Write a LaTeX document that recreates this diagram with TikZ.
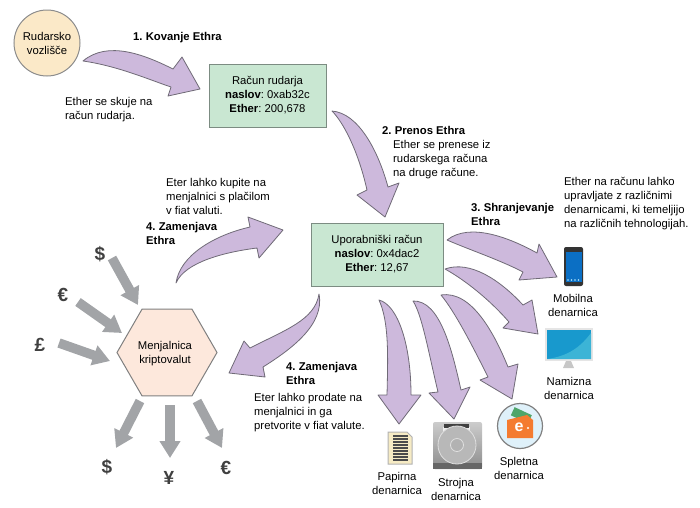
\documentclass[tikz,border=0pt]{standalone}
\usepackage{fontspec}
\setmainfont{Liberation Sans}
\usepackage{tikz}
\usetikzlibrary{arrows.meta,shapes.geometric}
\definecolor{fatfill}{HTML}{CDB9DC}
\definecolor{fatline}{HTML}{6F6A76}
\definecolor{boxfill}{HTML}{C9E7D2}
\definecolor{boxline}{HTML}{7C8C82}
\definecolor{flowgray}{HTML}{A2A4A7}
\definecolor{minerfill}{HTML}{FBE9C8}
\definecolor{hexfill}{HTML}{FDE8DC}
\definecolor{screendark}{HTML}{1899CD}
\definecolor{screenlight}{HTML}{3CB4D6}
\definecolor{phoneblue}{HTML}{0B6FC4}
\definecolor{papercream}{HTML}{F6EBC4}
\definecolor{notegreen}{HTML}{4FA56A}
\definecolor{walletorange}{HTML}{F47B30}
\definecolor{walletback}{HTML}{DFF1FA}
\newcommand{\bodyfont}{\fontsize{11.3}{14}\selectfont\frenchspacing}
\tikzset{
    fatarrow/.style={draw=fatline, fill=fatfill, line width=0.8pt, line join=round},
    flowarrow/.style={draw=flowgray, line width=9.5pt, -{Triangle[length=17pt,width=20pt]}},
    account/.style={draw=boxline, fill=boxfill, line width=1pt, minimum width=117pt, minimum height=63pt, align=center, inner sep=0pt, font=\bodyfont},
    txt/.style={anchor=west, align=left, inner sep=0pt, font=\bodyfont},
    head/.style={txt, font=\bodyfont\bfseries},
    lbl/.style={align=center, inner sep=0pt, font=\bodyfont},
    sym/.style={inner sep=0pt, text=black!75, font=\fontsize{19}{19}\selectfont\bfseries}
}
\begin{document}
\begin{tikzpicture}[x=1pt, y=-1pt, >=stealth]
        \useasboundingbox (0,0) rectangle (700,507);
        % main nodes
        \node[circle, draw=black!45, fill=minerfill, line width=1pt, minimum size=66pt, inner sep=0pt, align=center, font=\bodyfont] (miner) at (47,43) {Rudarsko\\vozlišče};
        \node[account] (mineracc) at (267.5,95.5) {Račun rudarja\\\textbf{naslov}: 0xab32c\\\textbf{Ether}: 200,678};
        \node[account, minimum width=132pt] (useracc) at (377,254.5) {Uporabniški račun\\\textbf{naslov}: 0x4dac2\\\textbf{Ether}: 12,67};
        \node[regular polygon, regular polygon sides=6, draw=black!50, fill=hexfill, line width=1pt, minimum size=100pt, inner sep=0pt] (exchange) at (167,352.5) {};
        \node[lbl] (exchangetxt) at (165,354) {Menjalnica\\kriptovalut};

        % end points of the wide arrows
        \coordinate (t1) at (83,61);    \coordinate (h1) at (200,89);
        \coordinate (t2) at (332,111);  \coordinate (h2) at (385,217);
        \coordinate (t3) at (447,240);  \coordinate (h3) at (557,277);
        \coordinate (t4) at (445,269);  \coordinate (h4) at (538,334);
        \coordinate (t5) at (441,295);  \coordinate (h5) at (512,399);
        \coordinate (t6) at (413,301);  \coordinate (h6) at (454,419);
        \coordinate (t7) at (379,300);  \coordinate (h7) at (399,424);
        \coordinate (t8) at (319,294);  \coordinate (h8) at (229,373);
        \coordinate (t9) at (176,283);  \coordinate (h9) at (283,230);

        \draw[fatarrow] (t1) .. controls (108,40) and (145,55) .. (173,69) -- (182,57) -- (h1) -- (168,96) -- (171,87)
            .. controls (150,80) and (118,66) .. (t1) -- cycle;
        \draw[fatarrow] (t2) .. controls (358,113) and (378,150) .. (388,187) -- (399,183) -- (h2) -- (357,195) -- (367,190)
            .. controls (358,150) and (343,122) .. (t2) -- cycle;
        \draw[fatarrow] (t3) .. controls (470,222) and (510,238) .. (537,253) -- (539,244) -- (h3) -- (519,280) -- (523,272)
            .. controls (500,260) and (470,250) .. (t3) -- cycle;
        \draw[fatarrow] (t4) .. controls (470,260) and (500,280) .. (523,305) -- (532,300) -- (h4) -- (503,328) -- (509,322)
            .. controls (490,300) and (465,280) .. (t4) -- cycle;
        \draw[fatarrow] (t5) .. controls (472,290) and (495,335) .. (508,367) -- (518,364) -- (h5) -- (480,380) -- (488,377)
            .. controls (472,345) and (455,312) .. (t5) -- cycle;
        \draw[fatarrow] (t6) .. controls (440,300) and (452,350) .. (461,390) -- (470,387) -- (h6) -- (429,393) -- (438,392)
            .. controls (428,350) and (422,315) .. (t6) -- cycle;
        \draw[fatarrow] (t7) .. controls (398,305) and (411,345) .. (411,395) -- (421,395) -- (h7) -- (378,395) -- (387,395)
            .. controls (388,355) and (389,322) .. (t7) -- cycle;
        \draw[fatarrow] (t8) .. controls (325,325) and (290,350) .. (263,367) -- (265,377) -- (h8) -- (244,341) -- (250,348)
            .. controls (285,330) and (315,320) .. (t8) -- cycle;
        \draw[fatarrow] (t9) .. controls (180,255) and (215,235) .. (250,227) -- (248,217) -- (h9) -- (259,258) -- (257,248)
            .. controls (225,252) and (185,262) .. (t9) -- cycle;

        % currency
        \foreach \n/\x/\y/\s in {din/100/254/\$, ein/63/295/€, pin/40/345/£, dout/107/467/\$, yout/169/478/¥, eout/226/468/€}
            \node[sym] (\n) at (\x,\y) {\s};
        \coordinate (a1) at (112,258); \coordinate (b1) at (138,305);
        \coordinate (a2) at (78,302);  \coordinate (b2) at (122,333);
        \coordinate (a3) at (59,343);  \coordinate (b3) at (110,361);
        \coordinate (a4) at (140,401); \coordinate (b4) at (116,448);
        \coordinate (a5) at (170,405); \coordinate (b5) at (170,458);
        \coordinate (a6) at (197,401); \coordinate (b6) at (222,448);
        \foreach \i in {1,...,6}
            \draw[flowarrow] (a\i) -- (b\i);

        % texts
        \node[head] (step1) at (133,38) {1. Kovanje Ethra};
        \node[txt] (step1txt) at (65,110) {Ether se skuje na\\račun rudarja.};
        \node[head] (step2) at (382,130) {2. Prenos Ethra};
        \node[txt] (step2txt) at (393,160) {Ether se prenese iz\\rudarskega računa\\na druge račune.};
        \node[head] (step3) at (471,214.5) {3. Shranjevanje\\Ethra};
        \node[txt] (step3txt) at (564,204) {Ether na računu lahko\\upravljate z različnimi\\denarnicami, ki temeljijo\\na različnih tehnologijah.};
        \node[txt] (buytxt) at (166,196) {Eter lahko kupite na\\menjalnici s plačilom\\v fiat valuti.};
        \node[head] (buy) at (146,233) {4. Zamenjava\\Ethra};
        \node[head] (sell) at (286,373.5) {4. Zamenjava\\Ethra};
        \node[txt] (selltxt) at (254,412.5) {Eter lahko prodate na\\menjalnici in ga\\pretvorite v fiat valute.};

        % wallets
        \node[lbl] (mobile) at (573,305) {Mobilna\\denarnica};
        \node[lbl] (desktop) at (569,388) {Namizna\\denarnica};
        \node[lbl] (web) at (519,468) {Spletna\\denarnica};
        \node[lbl] (paper) at (397,483) {Papirna\\denarnica};
        \node[lbl] (hard) at (456,489) {Strojna\\denarnica};

        % phone
        \fill[black!80, rounded corners=2pt] (564,247) rectangle (583,286);
        \fill[phoneblue] (565.5,252) rectangle (581.5,282);
        \foreach \x in {568,571.5,575,578.5}
            \fill[cyan!30] (\x,280) circle (0.9pt);
        % monitor
        \fill[black!10] (545,328) rectangle (593,361);
        \fill[screendark] (547,330) rectangle (591,359);
        \fill[screenlight] (547,359) .. controls (570,356) and (582,345) .. (591,333) -- (591,359) -- cycle;
        \fill[black!22] (566,361) -- (571,361) -- (574,368) -- (563,368) -- cycle;
        % paper
        \draw[fill=papercream, draw=black!30, line width=1pt] (388,432) -- (407,432) -- (412,437) -- (412,464) -- (388,464) -- cycle;
        \foreach \y in {436,439,...,460}
            \draw[black!70, line width=1.5pt] (393,\y) -- (408,\y);
        % disk
        \shade[top color=black!20, bottom color=black!45, rounded corners=2pt] (433,422) rectangle (482,469);
        \fill[black!60] (433,463) rectangle (482,469);
        \fill[black!6] (443,427) rectangle (470,431);
        \fill[black!75] (444,424) rectangle (469,428);
        \draw[black!12, fill=black!28, line width=0.8pt] (457,445) circle (19pt);
        \draw[black!12, fill=black!30, line width=0.8pt] (457,445) circle (6.5pt);
        % web wallet
        \draw[fill=walletback, draw=black!50, line width=1.2pt] (520,426) circle (22.5pt);
        \fill[notegreen, rotate around={-25:(522,415)}] (512,411) rectangle (531,420);
        \fill[walletorange] (507,420) -- (527,415) -- (533,420) -- (533,438) -- (507,438) -- cycle;
        \node[inner sep=0pt, text=white, font=\fontsize{16}{16}\selectfont\bfseries] (webicon) at (519,427) {e};
        \fill[white] (528,428) circle (1.2pt);
    \end{tikzpicture}
\end{document}
